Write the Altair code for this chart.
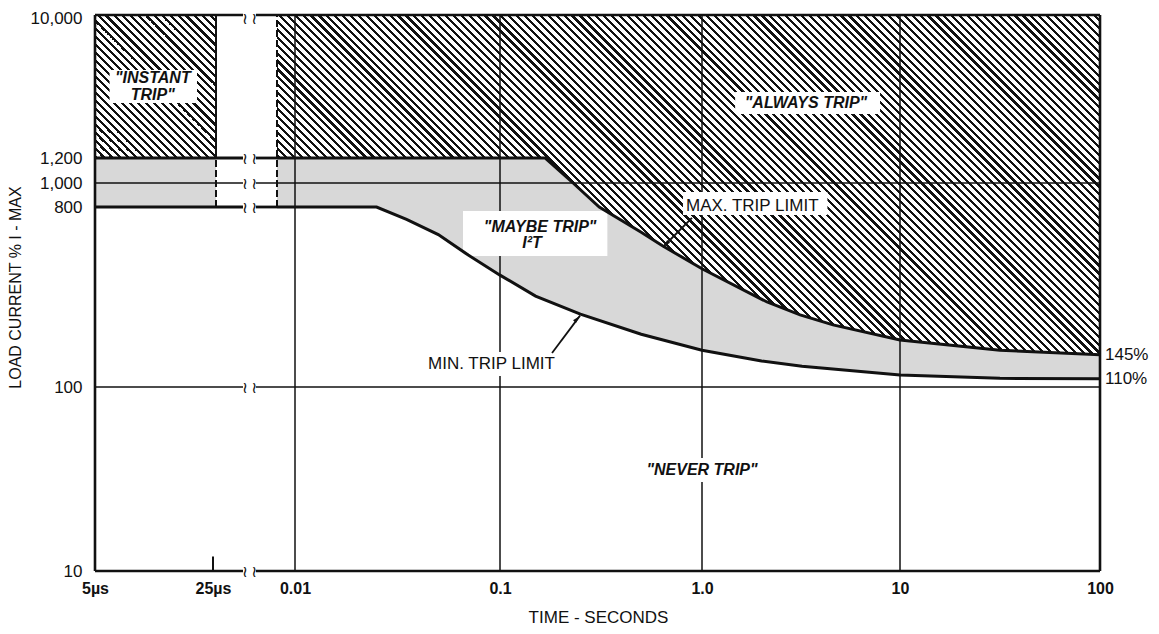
import math
import altair as alt
import pandas as pd

# ---------------- data (time in s, current in % of I-max) ----------------
max_t = [3e-3, 0.167, 0.23, 0.31, 0.5, 0.64, 1.0, 2.13, 3.13, 4.59, 10, 31.6, 100]
max_i = [1200, 1200, 1000, 800, 598, 510, 392, 267, 230, 205, 172, 153, 145]
min_t = [3e-3, 0.025, 0.035, 0.05, 0.07, 0.1, 0.15, 0.25, 0.5, 1.0, 2.0, 3.2, 10, 31.6, 100]
min_i = [800, 800, 693, 582, 459, 364, 286, 232, 184, 153, 135, 127, 115, 110.5, 110]

t_start = 5e-6      # 5 µs, left edge
t_instant = 3e-5    # end of the instant-trip block
t_dash = 3e-3       # dashed boundary after the axis break
t_brk_l = 2.3e-4    # axis break (line ends)
t_brk_r = 6.1e-4
t_glyph = [2.7e-4, 5.4e-4]
t_tick = 2.5e-5
t_end = 100
i_bottom, i_top = 10, 10000
i_thick_levels = [1200, 800]
i_thin_levels = [1000, 100]
grid_t = [0.01, 0.1, 1, 10]

x_tick_values = [5e-6, 2.5e-5, 0.01, 0.1, 1, 10, 100]
x_tick_labels = ["5\u00b5s", "25\u00b5s", "0.01", "0.1", "1.0", "10", "100"]
y_tick_values = [10, 100, 800, 1000, 1200, 10000]
y_tick_labels = ["10", "100", "800", "1,000", "1,200", "10,000"]

# schematic (piecewise) scales
x_domain = [5e-6, 2.5e-5, 3e-5, 3e-3, 0.01, 0.1, 1, 10, 100]
x_range = [0, 118, 121, 182, 200, 405, 607, 805, 1005]
y_domain = [10, 100, 800, 1000, 1200, 10000]
y_range = [556, 372, 192, 168, 143, 0]

W_PLOT, H_PLOT = 1005, 556
FONT = "Liberation Sans"
INK = "#111111"


def _pw(v, dom, rng):
    lv = math.log10(v)
    for k in range(len(dom) - 1):
        a, b = math.log10(dom[k]), math.log10(dom[k + 1])
        if lv <= b or k == len(dom) - 2:
            return rng[k] + (rng[k + 1] - rng[k]) * (lv - a) / (b - a)


def hatch(W, H, period=5.6, frac=0.4):
    L = (W + H) / math.sqrt(2)
    n = max(1, round(L / period))
    k = (W + H) / (W * W + H * H)
    stops = []
    for j in range(n):
        a, b, c = j / n, (j + frac) / n, (j + 1) / n
        stops += [alt.GradientStop(offset=a, color=INK),
                  alt.GradientStop(offset=b, color=INK),
                  alt.GradientStop(offset=b, color="white"),
                  alt.GradientStop(offset=c, color="white")]
    return alt.LinearGradient(gradient="linear", stops=stops,
                              x1=0, y1=1, x2=k * W, y2=1 - k * H)


def label_expr(vals, labs):
    expr = "''"
    for v, l in reversed(list(zip(vals, labs))):
        expr = f"abs(datum.value - {v!r}) < {v * 1e-3!r} ? '{l}' : (" + expr + ")"
    return expr


xs = alt.Scale(type="log", domain=x_domain, range=x_range, nice=False, zero=False)
ys = alt.Scale(type="log", domain=y_domain, range=y_range, nice=False, zero=False)

x_axis = alt.Axis(values=x_tick_values, labelExpr=label_expr(x_tick_values, x_tick_labels),
                  title="TIME - SECONDS", domain=False, ticks=False, grid=False,
                  labelFont=FONT, labelFontSize=16, labelFontWeight="bold", labelColor=INK,
                  labelPadding=9, labelFlush=False, labelOverlap=False, labelBound=False,
                  titleFont=FONT, titleFontSize=17, titleFontWeight="normal", titleColor=INK,
                  titleX=503, titleY=46, titleAlign="center", titleBaseline="middle")
y_axis = alt.Axis(values=y_tick_values, labelExpr=label_expr(y_tick_values, y_tick_labels),
                  title="LOAD CURRENT % I - MAX", domain=False, ticks=False, grid=False,
                  labelFont=FONT, labelFontSize=17, labelColor=INK, labelPadding=13,
                  labelOffset={"condition": {"test": "datum.value >= 5000", "value": 3}, "value": 0},
                  labelFlush=False, labelOverlap=False, labelBound=False,
                  titleFont=FONT, titleFontSize=16, titleFontWeight="normal", titleColor=INK,
                  titleX=-80, titleY=272, titleAngle=270, titleAlign="center",
                  titleBaseline="middle")

# ---------------- regions ----------------
gray = "#d8d8d8"
min_df = pd.DataFrame({"t": min_t, "lo": min_i, "hi": [i_top] * len(min_t)})
max_df = pd.DataFrame({"t": max_t, "lo": max_i, "hi": [i_top] * len(max_t)})

stipple_area = alt.Chart(min_df).mark_area(fill=gray, strokeWidth=0).encode(
    x=alt.X("t:Q", scale=xs, axis=x_axis),
    y=alt.Y("lo:Q", scale=ys, axis=y_axis),
    y2="hi:Q")

W_h = _pw(t_end, x_domain, x_range) - _pw(t_dash, x_domain, x_range)
H_h = max(_pw(v, y_domain, y_range) for v in max_i) - _pw(i_top, y_domain, y_range)
hatch_area = alt.Chart(max_df).mark_area(fill=hatch(W_h, H_h), strokeWidth=0).encode(
    x=alt.X("t:Q", scale=xs), y=alt.Y("lo:Q", scale=ys), y2="hi:Q")

left_df = pd.DataFrame({"t": [t_start], "t2": [t_instant], "lo": [800], "mid": [1200], "hi": [i_top]})
stipple_left = alt.Chart(left_df).mark_rect(fill=gray, strokeWidth=0).encode(
    x=alt.X("t:Q", scale=xs), x2="t2:Q", y=alt.Y("lo:Q", scale=ys), y2="mid:Q")
W_i = _pw(t_instant, x_domain, x_range) - _pw(t_start, x_domain, x_range)
H_i = _pw(1200, y_domain, y_range) - _pw(i_top, y_domain, y_range)
hatch_left = alt.Chart(left_df).mark_rect(fill=hatch(W_i, H_i), strokeWidth=0).encode(
    x=alt.X("t:Q", scale=xs), x2="t2:Q", y=alt.Y("mid:Q", scale=ys), y2="hi:Q")

# ---------------- lines ----------------
def hseg(levels, right_end):
    rows = []
    for lv in levels:
        rows.append({"t": t_start, "t2": t_brk_l, "i": lv})
        rows.append({"t": t_brk_r, "t2": right_end, "i": lv})
    return pd.DataFrame(rows)


def hrule(df, width, dash=None):
    kw = dict(color=INK, strokeWidth=width, strokeCap="butt")
    if dash:
        kw["strokeDash"] = dash
    return alt.Chart(df).mark_rule(**kw).encode(
        x=alt.X("t:Q", scale=xs), x2="t2:Q", y=alt.Y("i:Q", scale=ys))


def vrule(df, width, dash=None):
    kw = dict(color=INK, strokeWidth=width, strokeCap="butt")
    if dash:
        kw["strokeDash"] = dash
    return alt.Chart(df).mark_rule(**kw).encode(
        x=alt.X("t:Q", scale=xs), y=alt.Y("i:Q", scale=ys), y2="i2:Q")


grid_df = pd.DataFrame({"t": grid_t, "i": [i_bottom] * len(grid_t), "i2": [i_top] * len(grid_t)})
frame_v_df = pd.DataFrame({"t": [t_start, t_end], "i": [i_bottom, i_bottom], "i2": [i_top, i_top]})
edge_df = pd.DataFrame({"t": [t_instant], "i": [1200], "i2": [i_top]})
dash_df = pd.DataFrame({"t": [t_instant, t_dash], "i": [800, 800], "i2": [1200, i_top]})
tick_df = pd.DataFrame({"t": [t_tick], "i": [i_bottom], "i2": [12]})

frame_h = hrule(hseg([i_top, i_bottom], t_end), 2.6)
thick_h = hrule(hseg(i_thick_levels, t_dash), 2.8)
thin_h = hrule(hseg(i_thin_levels, t_end), 1.3)


def glyph_layer(levels, dy):
    rows = [{"t": g, "i": lv} for lv in levels for g in t_glyph]
    return alt.Chart(pd.DataFrame(rows)).mark_text(
        text="\u2240", font="DejaVu Sans", fontSize=16, color=INK, baseline="middle", dy=dy).encode(
        x=alt.X("t:Q", scale=xs), y=alt.Y("i:Q", scale=ys))


glyphs_top = glyph_layer([i_top], 4)
glyphs = glyph_layer([1200, 1000, 800, 100, i_bottom], 1)

max_line = alt.Chart(max_df).mark_line(color=INK, strokeWidth=3, strokeCap="butt").encode(
    x=alt.X("t:Q", scale=xs), y=alt.Y("lo:Q", scale=ys))
min_line = alt.Chart(min_df).mark_line(color=INK, strokeWidth=3, strokeCap="butt").encode(
    x=alt.X("t:Q", scale=xs), y=alt.Y("lo:Q", scale=ys))

# ---------------- annotation boxes / texts / arrows ----------------
box_df = pd.DataFrame({
    "t": [6.1e-6, 1.47, 0.066, 0.805, 0.0364, 0.494],
    "t2": [2.01e-5, 7.93, 0.34, 4.3, 0.198, 2.1],
    "i": [2713, 2304, 454, 729, 113.5, 30.5],
    "i2": [4425, 3193, 764, 920, 149.8, 41.1],
})
boxes = alt.Chart(box_df).mark_rect(fill="white", strokeWidth=0).encode(
    x=alt.X("t:Q", scale=xs), x2="t2:Q", y=alt.Y("i:Q", scale=ys), y2="i2:Q")

region_df = pd.DataFrame({
    "text": ['"INSTANT', 'TRIP"', '"ALWAYS TRIP"', '"MAYBE TRIP"', "I\u00b2T", '"NEVER TRIP"'],
    "t": [1.1e-5, 1.1e-5, 3.35, 0.158, 0.144, 1.0],
    "i": [3930, 3050, 2713, 635, 528, 35.4],
})
region_text = alt.Chart(region_df).mark_text(
    font=FONT, fontSize=16, fontWeight="bold", fontStyle="italic", color=INK,
    baseline="middle", align="center").encode(
    x=alt.X("t:Q", scale=xs), y=alt.Y("i:Q", scale=ys), text="text:N")

max_lbl = alt.Chart(pd.DataFrame({"text": ["MAX. TRIP LIMIT"], "t": [0.833], "i": [811]})).mark_text(
    font=FONT, fontSize=17, color=INK, baseline="middle", align="left").encode(
    x=alt.X("t:Q", scale=xs), y=alt.Y("i:Q", scale=ys), text="text:N")
min_lbl = alt.Chart(pd.DataFrame({"text": ["MIN. TRIP LIMIT"], "t": [0.187], "i": [130]})).mark_text(
    font=FONT, fontSize=17, color=INK, baseline="middle", align="right").encode(
    x=alt.X("t:Q", scale=xs), y=alt.Y("i:Q", scale=ys), text="text:N")
pct_lbl = alt.Chart(pd.DataFrame({"text": ["145%", "110%"], "t": [t_end, t_end], "i": [145, 110]})).mark_text(
    font=FONT, fontSize=17, color=INK, baseline="middle", align="left", dx=5).encode(
    x=alt.X("t:Q", scale=xs), y=alt.Y("i:Q", scale=ys), text="text:N")

arrow_df = pd.DataFrame({"t": [0.892, 0.181], "i": [705, 148], "t2": [0.641, 0.249],
                         "i2": [504, 228], "ang": [225, 43]})
arrow_lines = alt.Chart(arrow_df).mark_rule(color=INK, strokeWidth=1.8).encode(
    x=alt.X("t:Q", scale=xs), y=alt.Y("i:Q", scale=ys), x2="t2:Q", y2="i2:Q")
arrow_heads = alt.Chart(arrow_df).mark_point(
    shape="M0,0L0.45,1.8L-0.45,1.8Z", filled=True, color=INK, size=80, opacity=1).encode(
    x=alt.X("t2:Q", scale=xs), y=alt.Y("i2:Q", scale=ys), angle=alt.Angle("ang:Q", scale=None))

chart = alt.layer(
    stipple_area, hatch_area, stipple_left, hatch_left,
    vrule(grid_df, 1.5), thin_h,
    boxes,
    vrule(edge_df, 2.0), vrule(dash_df, 2.0, [7, 3]), vrule(tick_df, 2.0),
    max_line, min_line, thick_h, frame_h, vrule(frame_v_df, 2.6),
    glyphs_top, glyphs, region_text, max_lbl, min_lbl, pct_lbl, arrow_lines, arrow_heads,
).properties(
    width=W_PLOT, height=H_PLOT,
    padding={"left": 87, "top": 7, "right": 51, "bottom": 55},
    autosize=alt.AutoSizeParams(type="none"),
).configure_view(stroke=None)

chart.save("out.html", embed_options={"renderer": "svg", "actions": False})
